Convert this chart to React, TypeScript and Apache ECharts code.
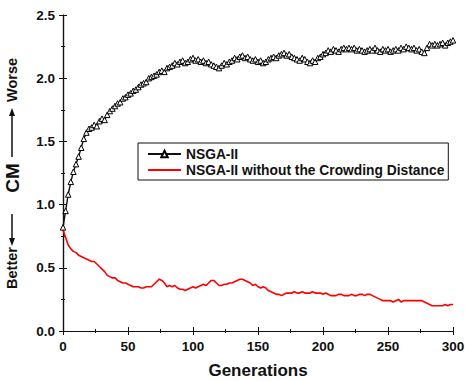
import React, { useEffect, useRef } from "react";
import * as echarts from "echarts";

// Generation step between the stored samples
const GEN_STEP = 2;

// CM metric per sampled generation (0, 2, 4, ... 300)
const nsga2Values = [
  0.82, 0.95, 1.08, 1.18, 1.26, 1.32, 1.38, 1.45, 1.52, 1.57,
  1.6, 1.61, 1.63, 1.62, 1.66, 1.68, 1.67, 1.71, 1.74, 1.76,
  1.78, 1.8, 1.81, 1.84, 1.85, 1.87, 1.88, 1.9, 1.91, 1.93,
  1.95, 1.96, 1.97, 2.0, 2.01, 2.02, 2.03, 2.05, 2.06, 2.05,
  2.08, 2.09, 2.1, 2.12, 2.11, 2.13, 2.14, 2.12, 2.13, 2.15,
  2.16, 2.14, 2.15, 2.13, 2.14, 2.12, 2.13, 2.11, 2.1, 2.09,
  2.08, 2.1, 2.12, 2.11, 2.13, 2.14, 2.16, 2.15, 2.17, 2.18,
  2.16, 2.17, 2.15, 2.14, 2.15, 2.13, 2.14, 2.12, 2.13, 2.15,
  2.16, 2.17, 2.16, 2.18, 2.19, 2.2, 2.18, 2.19, 2.17, 2.16,
  2.15, 2.14, 2.16, 2.15, 2.13, 2.12, 2.14, 2.13, 2.16, 2.17,
  2.19, 2.2, 2.22, 2.21, 2.23, 2.22, 2.21, 2.23, 2.24, 2.23,
  2.24, 2.23, 2.24, 2.22, 2.23, 2.22, 2.21, 2.22, 2.23, 2.22,
  2.24, 2.22, 2.21, 2.23, 2.22, 2.23, 2.21, 2.22, 2.23, 2.22,
  2.24, 2.23, 2.25, 2.24, 2.23, 2.24, 2.22, 2.23, 2.21, 2.2,
  2.24, 2.27, 2.26, 2.27, 2.26, 2.27, 2.28, 2.26, 2.28, 2.29,
  2.3,
];

const noCrowdingValues = [
  0.8, 0.74, 0.68, 0.65, 0.63, 0.62, 0.6, 0.59, 0.58, 0.57,
  0.56, 0.55, 0.55, 0.53, 0.51, 0.49, 0.47, 0.44, 0.43, 0.42,
  0.42, 0.4, 0.39, 0.38, 0.38, 0.37, 0.36, 0.35, 0.35, 0.35,
  0.34, 0.34, 0.35, 0.35, 0.35, 0.37, 0.39, 0.41, 0.4, 0.38,
  0.35, 0.36, 0.35, 0.36, 0.34, 0.33, 0.33, 0.32, 0.33, 0.34,
  0.35, 0.34, 0.35, 0.36, 0.37, 0.36, 0.38, 0.4, 0.4, 0.38,
  0.36, 0.36, 0.37, 0.37, 0.38, 0.38, 0.39, 0.4, 0.41, 0.41,
  0.4, 0.39, 0.38, 0.36, 0.37, 0.35, 0.34, 0.35, 0.34, 0.32,
  0.31, 0.3, 0.29, 0.29, 0.28, 0.29, 0.3, 0.3, 0.3, 0.31,
  0.3, 0.3, 0.31, 0.3, 0.3, 0.3, 0.31, 0.3, 0.3, 0.3,
  0.29, 0.3, 0.29, 0.28, 0.28, 0.28, 0.29, 0.29, 0.28, 0.28,
  0.28, 0.29, 0.28, 0.28, 0.29, 0.29, 0.28, 0.29, 0.29, 0.28,
  0.27, 0.26, 0.25, 0.24, 0.24, 0.24, 0.24, 0.23, 0.24, 0.25,
  0.23, 0.24, 0.24, 0.24, 0.24, 0.24, 0.24, 0.24, 0.24, 0.23,
  0.22, 0.21, 0.2, 0.2, 0.2, 0.2, 0.2, 0.21, 0.2, 0.21,
  0.21,
];

const SERIES_NAMES = ["NSGA-II", "NSGA-II without the Crowding Distance"];

const FONT = "'Liberation Sans', Arial, sans-serif";
const INK = "#111";

const toPairs = (vals: number[]) => vals.map((v, i) => [i * GEN_STEP, v]);

export default function App() {
  const ref = useRef<HTMLDivElement>(null);

  useEffect(() => {
    if (!ref.current) return;
    const chart = echarts.init(ref.current, undefined, { renderer: "svg" });

    const axisLine = { show: true, lineStyle: { color: INK, width: 1.2 } };
    const tick = { show: true, inside: false, length: 4, lineStyle: { color: INK, width: 1 } };
    const minor = { show: true, splitNumber: 2, length: 2, lineStyle: { color: INK, width: 1 } };
    const label = { color: INK, fontFamily: FONT, fontWeight: "bold" as const, fontSize: 13.5 };

    chart.setOption({
      animation: false,
      backgroundColor: "#fff",
      grid: { left: 63, right: 12, top: 15, bottom: 50, outerBoundsMode: "none" },
      legend: {
        orient: "vertical",
        left: 138,
        top: 143,
        data: [
          { name: SERIES_NAMES[0] },
          // plain red stroke in the key, no marker
          { name: SERIES_NAMES[1], itemStyle: { opacity: 0 } },
        ],
        borderColor: INK,
        borderWidth: 1,
        padding: [4, 4, 3, 9],
        itemGap: 2,
        itemWidth: 33,
        itemHeight: 8,
        textStyle: { color: INK, fontFamily: FONT, fontWeight: "bold", fontSize: 13.8 },
      },
      xAxis: [
        {
          type: "value",
          min: 0,
          max: 300,
          interval: 50,
          position: "bottom",
          axisLine,
          axisTick: tick,
          minorTick: minor,
          splitLine: { show: false },
          axisLabel: { ...label, margin: 8 },
          name: "Generations",
          nameLocation: "middle",
          nameGap: 31,
          nameTextStyle: { color: INK, fontFamily: FONT, fontWeight: "bold", fontSize: 17 },
        },
        {
          type: "value",
          min: 0,
          max: 300,
          interval: 50,
          position: "top",
          axisLine,
          axisTick: tick,
          minorTick: minor,
          splitLine: { show: false },
          axisLabel: { show: false },
        },
      ],
      yAxis: [
        {
          type: "value",
          min: 0,
          max: 2.5,
          interval: 0.5,
          position: "left",
          axisLine,
          axisTick: tick,
          minorTick: minor,
          splitLine: { show: false },
          axisLabel: { ...label, margin: 8, formatter: (v: number) => v.toFixed(1) },
        },
        {
          type: "value",
          min: 0,
          max: 2.5,
          interval: 0.5,
          position: "right",
          axisLine,
          axisTick: tick,
          minorTick: minor,
          splitLine: { show: false },
          axisLabel: { show: false },
        },
      ],
      series: [
        {
          name: SERIES_NAMES[0],
          type: "line",
          data: toPairs(nsga2Values),
          showSymbol: true,
          showAllSymbol: true,
          symbol: "triangle",
          symbolSize: 5.5,
          lineStyle: { color: INK, width: 1.4 },
          itemStyle: { color: "#fff", borderColor: "#000", borderWidth: 1 },
          z: 3,
        },
        {
          name: SERIES_NAMES[1],
          type: "line",
          data: toPairs(noCrowdingValues),
          showSymbol: false,
          symbol: "none",
          lineStyle: { color: "#ff0000", width: 1.6 },
          itemStyle: { color: "#ff0000" },
          z: 2,
        },
      ],
      graphic: [
        {
          type: "text",
          x: 12,
          y: 268,
          rotation: Math.PI / 2,
          style: { text: "Better", fill: INK, font: `bold 14.5px ${FONT}`, align: "center", verticalAlign: "middle" },
        },
        { type: "line", shape: { x1: 12, y1: 214, x2: 12, y2: 240 }, style: { stroke: INK, lineWidth: 1.5 } },
        { type: "polygon", shape: { points: [[9, 238], [12, 246], [15, 238]] }, style: { fill: INK } },
        {
          type: "text",
          x: 12,
          y: 178,
          rotation: Math.PI / 2,
          style: { text: "CM", fill: INK, font: `bold 19px ${FONT}`, align: "center", verticalAlign: "middle" },
        },
        { type: "line", shape: { x1: 12, y1: 114, x2: 12, y2: 157 }, style: { stroke: INK, lineWidth: 1.5 } },
        { type: "polygon", shape: { points: [[9, 116], [12, 108], [15, 116]] }, style: { fill: INK } },
        {
          type: "text",
          x: 12,
          y: 80,
          rotation: Math.PI / 2,
          style: { text: "Worse", fill: INK, font: `bold 14.5px ${FONT}`, align: "center", verticalAlign: "middle" },
        },
      ],
    });

    return () => chart.dispose();
  }, []);

  return (
    <div
      ref={ref}
      style={{ position: "fixed", left: 0, top: 0, width: 465, height: 381, background: "#fff" }}
    />
  );
}
